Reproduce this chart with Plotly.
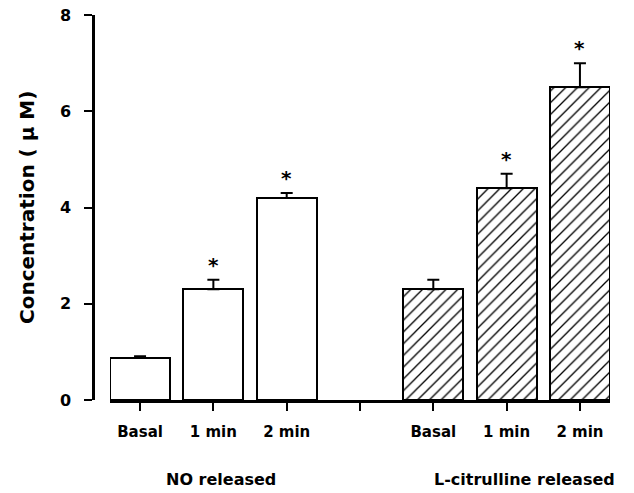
import plotly.graph_objects as go

categories = ["Basal", "1 min", "2 min"]
no_values = [0.88, 2.30, 4.20]
no_err = [0.03, 0.20, 0.10]
cit_values = [2.30, 4.40, 6.50]
cit_err = [0.20, 0.30, 0.50]
no_sig = [False, True, True]
cit_sig = [False, True, True]
y_ticks = [0, 2, 4, 6, 8]
group_labels = ["NO released", "L-citrulline released"]

no_x = [0, 1, 2]
cit_x = [4, 5, 6]
tick_x = [0, 1, 2, 3, 4, 5, 6]
tick_text = categories + [""] + categories

FONT = "DejaVu Sans"

W, H = 634, 493
L, T = 93, 15
PW, PH = 517, 385
R, B = W - L - PW, H - T - PH

fig = go.Figure()
fig.add_trace(go.Bar(
    x=no_x, y=no_values, width=0.82,
    marker=dict(color="white", line=dict(color="black", width=2)),
    error_y=dict(type="data", symmetric=False, array=no_err, arrayminus=[0]*3,
                 color="black", thickness=2, width=6),
    showlegend=False,
))
fig.add_trace(go.Bar(
    x=cit_x, y=cit_values, width=0.82,
    marker=dict(color="white", line=dict(color="black", width=2),
                pattern=dict(shape="/", fgcolor="black", bgcolor="white", fgopacity=1,
                             size=8.3, solidity=0.16)),
    error_y=dict(type="data", symmetric=False, array=cit_err, arrayminus=[0]*3,
                 color="black", thickness=2, width=6),
    showlegend=False,
))

# significance asterisks
for xs, vals, errs, sig in [(no_x, no_values, no_err, no_sig), (cit_x, cit_values, cit_err, cit_sig)]:
    for xi, v, e, s in zip(xs, vals, errs, sig):
        if s:
            fig.add_annotation(x=xi, y=v + e, xref="x", yref="y", text="<b>*</b>",
                               showarrow=False, xanchor="center", yanchor="middle", yshift=15,
                               font=dict(family=FONT, size=20, color="black"))

# y-axis title
fig.add_annotation(x=(27 - L) / PW, y=(400 - 208) / PH, xref="paper", yref="paper",
                   text="<b>Concentration ( μ M)</b>", textangle=-90, showarrow=False,
                   xanchor="center", yanchor="middle",
                   font=dict(family=FONT, size=20, color="black"))

# group labels
for gx, lab in zip([(221 - L) / PW, (524.5 - L) / PW], group_labels):
    fig.add_annotation(x=gx, y=(400 - 479) / PH, xref="paper", yref="paper",
                       text="<b>" + lab + "</b>", showarrow=False,
                       xanchor="center", yanchor="middle",
                       font=dict(family=FONT, size=16, color="black"))

fig.update_layout(
    width=W, height=H,
    margin=dict(l=L, r=R, t=T, b=B, autoexpand=False),
    plot_bgcolor="white", paper_bgcolor="white",
    bargap=0,
    xaxis=dict(
        domain=[(110 - L) / PW, 1],
        range=[-0.41, 6.41],
        tickmode="array", tickvals=tick_x, ticktext=tick_text,
        ticks="outside", ticklen=8, tickwidth=1.5, tickcolor="black",
        showline=True, linecolor="black", linewidth=2.5,
        showgrid=False, zeroline=False, automargin=False,
        tickfont=dict(family=FONT, size=15, color="black", weight="bold"),
        ticklabelstandoff=8,
    ),
    yaxis=dict(
        anchor="free", position=0,
        range=[0, 8],
        tickmode="array", tickvals=y_ticks,
        ticks="outside", ticklen=8, tickwidth=2, tickcolor="black",
        showline=True, linecolor="black", linewidth=2.5,
        showgrid=False, zeroline=False, automargin=False,
        tickfont=dict(family=FONT, size=16, color="black", weight="bold"),
        ticklabelstandoff=10,
    ),
)

fig.write_html("out.html", config={"displayModeBar": False},
               post_script="document.body.style.margin='0';document.body.style.overflow='hidden';")
